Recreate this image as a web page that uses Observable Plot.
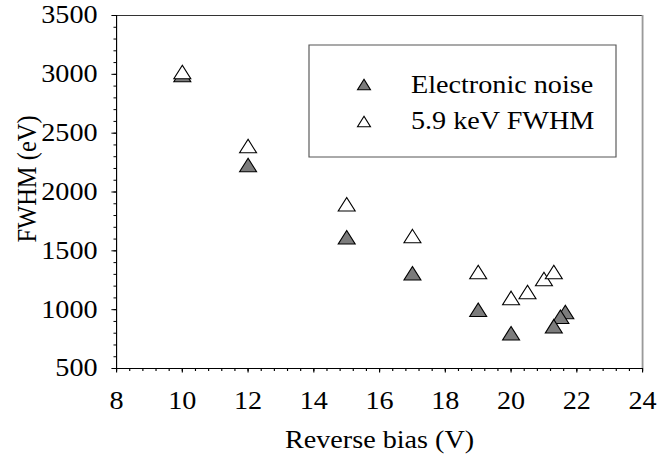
<!DOCTYPE html>
<html>
<head>
<meta charset="utf-8">
<script src="https://cdn.jsdelivr.net/npm/d3@7"></script>
<script src="https://cdn.jsdelivr.net/npm/@observablehq/plot@0.6"></script>
<style>
  html, body { margin: 0; padding: 0; background: #fff; }
  #chart { width: 660px; height: 463px; overflow: hidden; }
  #chart svg { font-family: "Liberation Serif", "Times New Roman", Times, serif !important; font-size: 24.5px !important; }
</style>
</head>
<body>
<div id="chart"></div>
<script>
// Reverse bias (V) for each measurement
const biasNoise = [10, 12, 15, 17, 19, 20, 21.65, 21.5, 21.3];
const biasPeak  = [10, 12, 15, 17, 19, 20, 20.5, 21.0, 21.3];
// FWHM (eV)
const electronicNoise = [2995, 2230, 1615, 1310, 1000, 800, 980, 940, 860];
const peakFwhm        = [3020, 2390, 1895, 1625, 1320, 1100, 1150, 1260, 1320];

const seriesNames = ["Electronic noise", "5.9 keV FWHM"];
const xTicks = [8, 10, 12, 14, 16, 18, 20, 22, 24];
const yTicks = [500, 1000, 1500, 2000, 2500, 3000, 3500];
const xLabel = "Reverse bias (V)";
const yLabel = "FWHM (eV)";

// minor tick positions
const xMinorTicks = d3.range(0, 41).map(i => 8 + i * 0.4);
const yMinorTicks = d3.range(500, 3501, 100);

// The drawing is laid out on a narrower canvas and then stretched horizontally
const K = 1.15;
const W = 660 / K;
const FS = 24.5;

// Triangle centred on its bounding box
const triangle = {
  draw(context, size) {
    const r = Math.sqrt(size / Math.PI);
    const hw = 1.345 * r, hh = 1.227 * r;
    context.moveTo(0, -hh);
    context.lineTo(hw, hh);
    context.lineTo(-hw, hh);
    context.closePath();
  }
};

const fillNoise = "#7c7c7c";
const noiseRows = biasNoise.map((b, i) => ({bias: b, fwhm: electronicNoise[i]}));
const peakRows = biasPeak.map((b, i) => ({bias: b, fwhm: peakFwhm[i]}));

const font = "Liberation Serif";

const svg = Plot.plot({
  width: W,
  height: 463,
  marginLeft: 116 / K,
  marginRight: 18 / K,
  marginTop: 15,
  marginBottom: 95,
  x: {domain: [8, 24]},
  y: {domain: [500, 3500]},
  style: {fontFamily: font, fontSize: FS + "px", color: "#000", background: "#fff"},
  marks: [
    Plot.axisY({ticks: yMinorTicks, tickSize: 2.2, tickFormat: () => "", label: null}),
    Plot.axisY({ticks: yTicks, tickSize: 4, tickPadding: 12.5, tickFormat: d => String(d), label: null, fontFamily: font, fontSize: FS}),
    Plot.axisX({ticks: xMinorTicks, tickSize: 3, tickFormat: () => "", label: null}),
    Plot.axisX({ticks: xTicks, tickSize: 4.5, tickPadding: 18.5, tickFormat: d => String(d), label: null, fontFamily: font, fontSize: FS}),
    Plot.ruleY([3500], {stroke: "#333"}),
    Plot.ruleX([24], {stroke: "#9a9a9a", strokeWidth: 1.6}),
    Plot.ruleX([8], {stroke: "#000"}),
    Plot.ruleY([500], {stroke: "#000"}),
    Plot.dot(noiseRows, {x: "bias", y: "fwhm", r: 5.5, symbol: triangle, fill: fillNoise, stroke: "#000", strokeWidth: 1}),
    Plot.dot(peakRows, {x: "bias", y: "fwhm", r: 5.5, symbol: triangle, fill: "#fff", stroke: "#000", strokeWidth: 1}),
    Plot.text([xLabel], {frameAnchor: "bottom", textAnchor: "middle", lineAnchor: "middle", dy: 72, fontSize: FS, fontFamily: font}),
    Plot.text([yLabel], {frameAnchor: "left", textAnchor: "middle", lineAnchor: "middle", dx: -77.5, dy: -13, rotate: -90, fontSize: FS, fontFamily: font})
  ]
});

// Legend box
const g = d3.select(svg).append("g")
  .attr("font-family", font).attr("font-size", FS).attr("text-anchor", "start");
g.append("rect")
  .attr("x", 309 / K).attr("y", 45)
  .attr("width", (616 - 309) / K).attr("height", 112)
  .attr("fill", "#fff").attr("stroke", "#555").attr("stroke-width", 1);
const legendItems = [
  {name: seriesNames[0], fill: fillNoise, y: 84.5, base: 93.5},
  {name: seriesNames[1], fill: "#fff", y: 121.5, base: 129.5}
];
legendItems.forEach(d => {
  g.append("path")
    .attr("d", d3.symbol().type(triangle).size(Math.PI * 4.2 * 4.2)())
    .attr("transform", `translate(${364 / K},${d.y})`)
    .attr("fill", d.fill).attr("stroke", "#000").attr("stroke-width", 1);
  g.append("text")
    .attr("x", 411 / K).attr("y", d.base)
    .attr("text-anchor", "start")
    .attr("fill", "#000")
    .text(d.name);
});

// stretch horizontally to the full width
svg.setAttribute("width", 660);
svg.setAttribute("height", 463);
svg.setAttribute("preserveAspectRatio", "none");
svg.style.width = "660px";
svg.style.height = "463px";
svg.style.maxWidth = "none";
document.getElementById("chart").appendChild(svg);
</script>
</body>
</html>
